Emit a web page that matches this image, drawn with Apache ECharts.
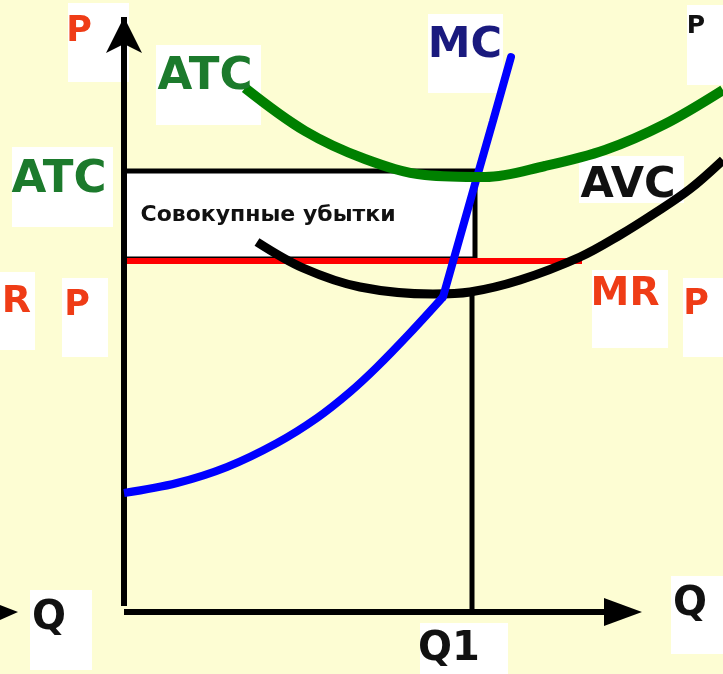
<!DOCTYPE html>
<html>
<head>
<meta charset="utf-8">
<script src="https://cdn.jsdelivr.net/npm/echarts@6/dist/echarts.min.js"></script>
<style>
  html, body { margin: 0; padding: 0; background: #fdfdd3; }
  #chart { width: 723px; height: 674px; }
</style>
</head>
<body>
<div id="chart"></div>
<script>
// кривые издержек (Q, P от начала координат)
// MC: нижняя выпуклая часть, затем прямой участок после излома
const mcQ = [0, 53, 103, 153, 193, 226, 253, 286, 319, 351, 369, 387];
const mcP = [119, 129, 145, 169, 194, 220, 245, 279, 315, 428, 491, 555];
const mcKink = 8; // индекс точки излома

const atcQ = [121, 181, 241, 301, 361, 421, 481, 541, 599];
const atcP = [524, 481, 453, 437, 435, 446, 462, 488, 522];

const avcQ = [133, 179, 236, 309, 346, 396, 456, 496, 531, 566, 599];
const avcP = [370, 344, 325, 318, 320, 332, 355, 377, 399, 423, 452];

// уровни
const q1 = 348;
const priceLevel = 351; // P = MR
const atcLevel = 441;
const mrEndQ = 458;
const avcMinP = 317;
const lossRight = 351;
const lossBottom = 353;

const lossText = "Совокупные убытки";

const zip = (xs, ys) => xs.map((x, i) => [x, ys[i]]);

const font = '"DejaVu Sans", sans-serif';
const red = "#ef3c16";
const green = "#1c7a2c";

// белые подложки под подписи [x, y, w, h]
const boxes = [
  [68, 3, 61, 79], [156, 45, 105, 80], [12, 147, 101, 80],
  [0, 272, 35, 78], [62, 278, 46, 79], [428, 14, 75, 79],
  [687, 5, 36, 80], [579, 156, 105, 47], [592, 270, 76, 78],
  [683, 278, 40, 79], [30, 590, 62, 80], [671, 576, 52, 78],
  [420, 623, 88, 51],
];

function txt(text, x, y, color, size, align) {
  return {
    type: "text",
    z: 100,
    style: {
      text: text,
      x: x,
      y: y,
      fill: color,
      font: "bold " + size + "px " + font,
      align: align || "center",
      verticalAlign: "middle",
    },
  };
}

const graphics = boxes.map((b) => ({
  type: "rect",
  z: 0,
  shape: { x: b[0], y: b[1], width: b[2], height: b[3] },
  style: { fill: "#fff" },
}));
graphics.push(
  txt("P", 79, 32, red, 35),
  txt("ATC", 205, 77, green, 45),
  txt("ATC", 59, 180, green, 45),
  txt("MR", 31, 302, red, 38, "right"),
  txt("P", 77, 306, red, 35),
  txt("MC", 465, 46, "#1a1a7e", 43),
  txt("P", 696, 26, "#111", 25),
  txt("AVC", 628, 186, "#111", 43),
  txt("MR", 625, 295, red, 39),
  txt("P", 696, 305, red, 35),
  txt("Q", 49, 619, "#111", 40),
  txt("Q", 690, 605, "#111", 40),
  txt("Q1", 449, 650, "#111", 40),
  {
    type: "polygon",
    z: 100,
    shape: { points: [[0, 605], [18, 612], [0, 620]] },
    style: { fill: "#000" },
  }
);

const mcData = zip(mcQ, mcP);

const chart = echarts.init(document.getElementById("chart"));

const option = {
  backgroundColor: "#fdfdd3",
  animation: false,
  grid: { left: 0, right: 0, top: 0, bottom: 0 },
  xAxis: { type: "value", min: -124, max: 599, show: false },
  yAxis: { type: "value", min: -62, max: 612, show: false },
  graphic: graphics,
  series: [
    {
      // MR = P
      type: "line",
      z: 1,
      silent: true,
      symbol: "none",
      lineStyle: { color: "#ff0000", width: 6 },
      data: [[0, priceLevel], [mrEndQ, priceLevel]],
    },
    {
      // прямоугольник убытков
      type: "line",
      z: 2,
      silent: true,
      symbol: "none",
      lineStyle: { width: 0 },
      data: [],
      markArea: {
        silent: true,
        itemStyle: { color: "#fff", borderColor: "#000", borderWidth: 5, opacity: 1 },
        label: {
          show: true,
          position: "insideLeft",
          distance: 19,
          color: "#111",
          fontWeight: "bold",
          fontSize: 22,
          fontFamily: font,
        },
        data: [[{ name: lossText, coord: [0, lossBottom] }, { coord: [lossRight, atcLevel] }]],
      },
    },
    {
      // Q1
      type: "line",
      z: 3,
      silent: true,
      symbol: "none",
      lineStyle: { color: "#000", width: 5 },
      data: [[q1, 0], [q1, avcMinP]],
    },
    {
      name: "AVC",
      type: "line",
      z: 4,
      silent: true,
      symbol: "none",
      smooth: 0.35,
      lineStyle: { color: "#000", width: 9 },
      data: zip(avcQ, avcP),
    },
    {
      name: "MC",
      type: "line",
      z: 5,
      silent: true,
      symbol: "none",
      smooth: 0.35,
      lineStyle: { color: "#0000ff", width: 8 },
      data: mcData.slice(0, mcKink + 1),
    },
    {
      name: "MC",
      type: "line",
      z: 5,
      silent: true,
      symbol: "none",
      lineStyle: { color: "#0000ff", width: 8, cap: "round" },
      data: mcData.slice(mcKink),
    },
    {
      name: "ATC",
      type: "line",
      z: 6,
      silent: true,
      symbol: "none",
      smooth: 0.35,
      lineStyle: { color: "#008000", width: 10 },
      data: zip(atcQ, atcP),
    },
    {
      // оси
      type: "line",
      z: 7,
      silent: true,
      data: [],
      markLine: {
        silent: true,
        animation: false,
        label: { show: false },
        lineStyle: { color: "#000", width: 6, type: "solid" },
        data: [
          [{ coord: [0, 6], symbol: "none" }, { coord: [0, 595], symbol: "arrow", symbolSize: [27, 36] }],
          [{ coord: [0, 0], symbol: "none" }, { coord: [499, 0], symbol: "triangle", symbolSize: [28, 38] }],
        ],
      },
    },
  ],
};

chart.setOption(option);
</script>
</body>
</html>
